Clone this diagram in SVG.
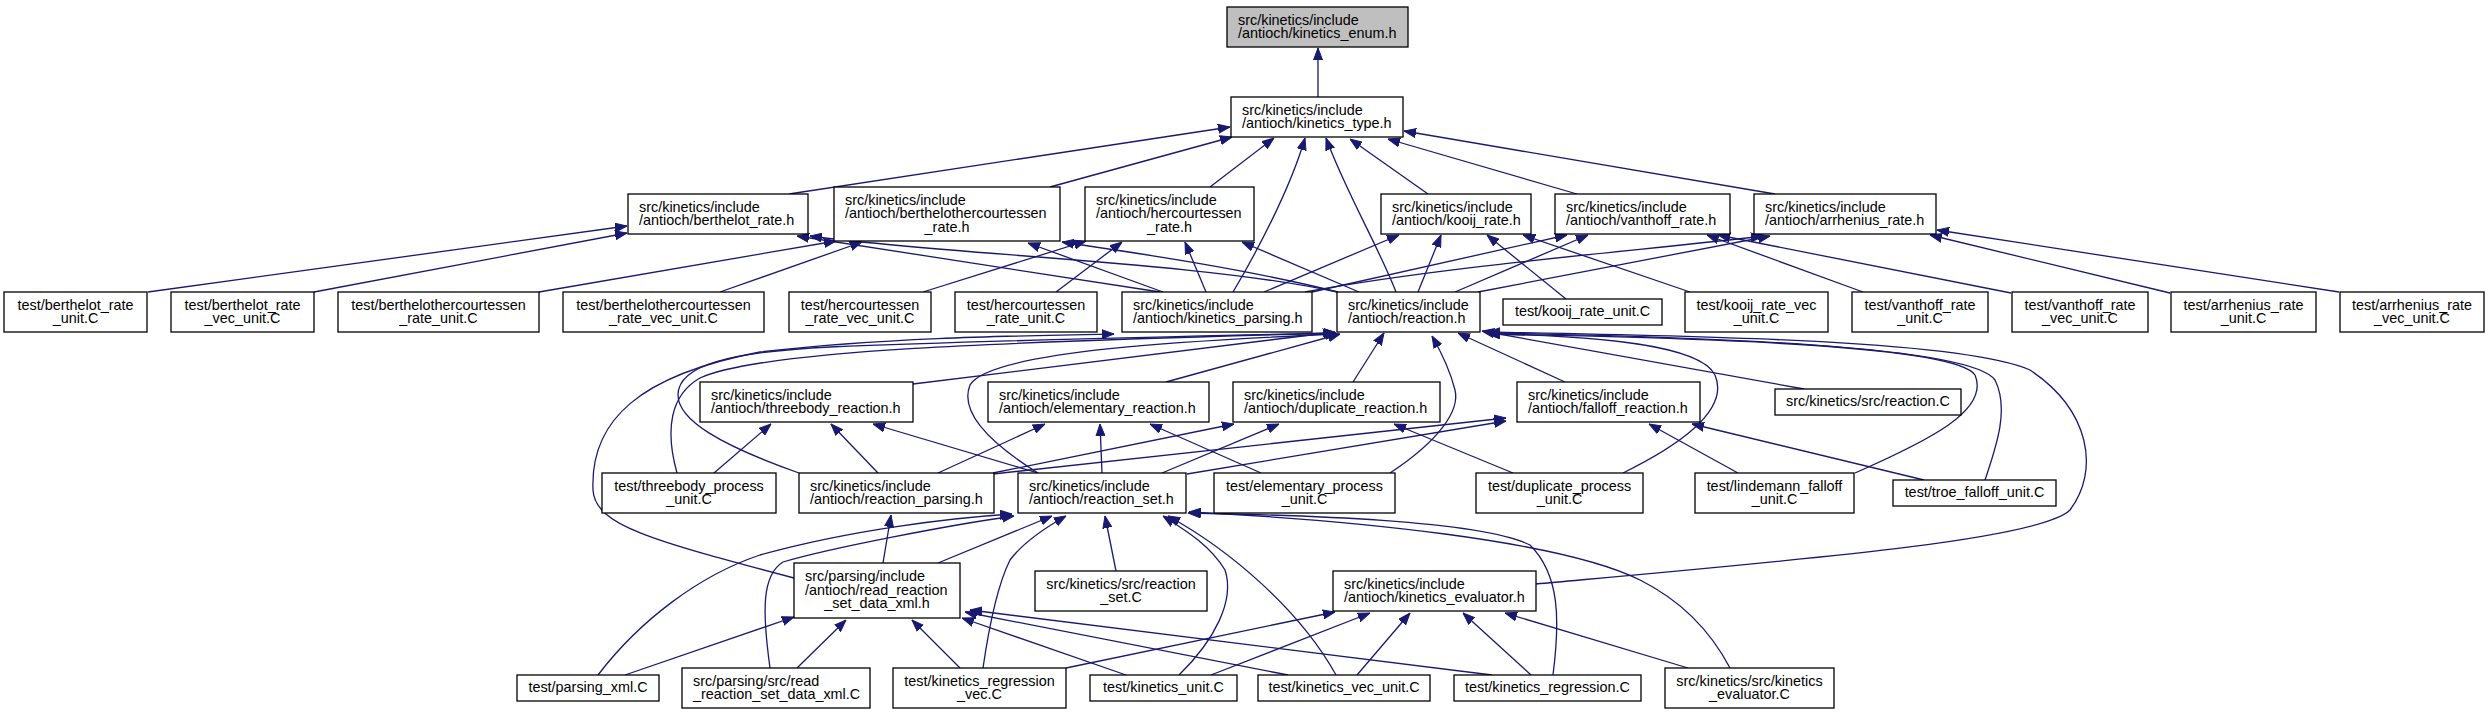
<svg xmlns="http://www.w3.org/2000/svg" width="2489" height="715" viewBox="0 0 2489 715">
<style>
.n rect{fill:#fff;stroke:#000;stroke-width:1.3}
#enum rect{fill:#bfbfbf}
text{font-family:"Liberation Sans",Arial,sans-serif;font-size:14.4px;fill:#000}
.c{text-anchor:middle}
.e path{fill:none;stroke:#191970;stroke-width:1.3;marker-end:url(#a)}
</style>
<defs>
<marker id="a" viewBox="0 0 12 10" markerWidth="12" markerHeight="10" refX="12" refY="5" orient="auto" markerUnits="userSpaceOnUse"><path d="M0,0.5 L12,5 L0,9.5 z" fill="#191970" stroke="#191970" stroke-width="1"/></marker>
</defs>
<rect width="2489" height="715" fill="#fff"/>
<g class="e" id="edges">
<path d="M1318,97 L1318,48"/>
<path d="M789,194 L1230,127"/>
<path d="M1050,187 L1232,137"/>
<path d="M1210,187 L1274,138"/>
<path d="M1233,292 C1255,255 1290,190 1305,138"/>
<path d="M1396,292 C1380,250 1345,190 1326,138"/>
<path d="M1428,194 L1350,139"/>
<path d="M1577,194 L1388,139"/>
<path d="M1775,194 L1404,131"/>
<path d="M148,292 L627,226"/>
<path d="M314,292 L627,233"/>
<path d="M1160,292 L797,236"/>
<path d="M1337,292 C1200,262 950,255 810,236"/>
<path d="M1163,292 L1028,243"/>
<path d="M1338,292 C1250,270 1150,255 1062,242"/>
<path d="M539,292 L836,241"/>
<path d="M720,292 L862,242"/>
<path d="M923,292 L1086,241"/>
<path d="M1056,292 L1122,242"/>
<path d="M1206,292 L1185,242"/>
<path d="M1359,292 L1242,242"/>
<path d="M1264,292 L1399,235"/>
<path d="M1418,292 L1441,235"/>
<path d="M1566,299 L1487,235"/>
<path d="M1690,292 L1523,235"/>
<path d="M1312,292 L1567,235"/>
<path d="M1455,292 L1588,235"/>
<path d="M1863,292 L1707,235"/>
<path d="M2011,293 L1718,235"/>
<path d="M1305,292 C1450,265 1650,250 1763,236"/>
<path d="M1478,292 C1600,268 1700,250 1770,236"/>
<path d="M2170,293 L1930,235"/>
<path d="M2339,292 L1937,230"/>
<path d="M913,384 L1335,332"/>
<path d="M1166,382 L1340,334"/>
<path d="M1353,382 L1384,333"/>
<path d="M1565,382 L1458,333"/>
<path d="M1804,389 L1482,331"/>
<path d="M1623,473 C1680,445 1730,410 1715,375 C1700,345 1600,336 1488,334"/>
<path d="M1855,473 C1930,440 1990,410 1975,375 C1955,345 1700,338 1488,334"/>
<path d="M1985,480 C1995,450 2010,410 1995,380 C1970,345 1700,337 1488,333"/>
<path d="M1536,584 C1800,560 2040,540 2070,510 C2100,470 2090,410 2030,370 C1960,340 1700,336 1488,332"/>
<path d="M794,578 C650,540 595,525 593,490 C590,420 640,375 760,352 C880,338 1000,336 1114,334"/>
<path d="M677,473 C665,430 670,395 700,378 C760,350 1000,342 1336,333"/>
<path d="M799,473 C720,445 678,420 678,395 C678,365 730,352 830,347 C1000,340 1200,336 1336,333"/>
<path d="M1038,473 C985,440 960,410 970,385 C990,350 1200,340 1338,334"/>
<path d="M1390,473 C1440,440 1460,410 1455,390 C1450,370 1440,350 1432,336"/>
<path d="M714,473 L771,424"/>
<path d="M878,473 L831,424"/>
<path d="M1038,473 L873,424"/>
<path d="M938,473 L1045,424"/>
<path d="M1102,473 L1100,424"/>
<path d="M1261,473 L1150,424"/>
<path d="M993,473 L1234,424"/>
<path d="M1162,473 L1279,424"/>
<path d="M1513,473 L1394,424"/>
<path d="M993,474 L1506,418"/>
<path d="M1187,474 L1506,421"/>
<path d="M1738,473 L1649,424"/>
<path d="M1924,480 L1692,424"/>
<path d="M883,563 L891,515"/>
<path d="M938,563 L1052,516"/>
<path d="M598,675 C640,620 700,575 760,555 C850,530 950,518 1012,514"/>
<path d="M770,668 C762,610 762,575 783,562 C830,548 950,525 1014,516"/>
<path d="M983,668 C990,620 1000,580 1010,560 C1025,540 1050,525 1066,516"/>
<path d="M1116,571 L1105,516"/>
<path d="M1179,675 C1215,640 1235,600 1225,570 C1210,545 1185,530 1163,516"/>
<path d="M1336,675 C1300,610 1230,550 1168,516"/>
<path d="M1553,675 C1560,620 1560,575 1530,545 C1480,520 1300,515 1188,513"/>
<path d="M1730,668 C1710,630 1680,600 1640,580 C1560,540 1350,520 1189,512"/>
<path d="M1066,668 L1335,612"/>
<path d="M1211,675 L1370,613"/>
<path d="M1357,675 L1410,613"/>
<path d="M1531,675 L1463,613"/>
<path d="M1688,668 L1505,613"/>
<path d="M625,675 L794,617"/>
<path d="M797,668 L846,620"/>
<path d="M960,668 L912,620"/>
<path d="M1126,675 L962,618"/>
<path d="M1288,675 L965,612"/>
<path d="M1492,675 L970,610"/>
</g>
<g class="n" id="enum"><rect x="1227" y="7" width="181" height="40"/><text x="1238" y="24.6">src/kinetics/include</text><text x="1238" y="37.9">/antioch/kinetics_enum.h</text></g>
<g class="n" id="ktype"><rect x="1231" y="97" width="172" height="40"/><text x="1242" y="114.6">src/kinetics/include</text><text x="1242" y="127.9">/antioch/kinetics_type.h</text></g>
<g class="n" id="berth"><rect x="628" y="194" width="180" height="40"/><text x="639" y="211.6">src/kinetics/include</text><text x="639" y="224.9">/antioch/berthelot_rate.h</text></g>
<g class="n" id="bhc"><rect x="834" y="187" width="226" height="54"/><text x="845" y="204.9">src/kinetics/include</text><text x="845" y="218.2">/antioch/berthelothercourtessen</text><text class="c" x="947" y="231.5">_rate.h</text></g>
<g class="n" id="herc"><rect x="1085" y="187" width="169" height="54"/><text x="1096" y="204.9">src/kinetics/include</text><text x="1096" y="218.2">/antioch/hercourtessen</text><text class="c" x="1169.5" y="231.5">_rate.h</text></g>
<g class="n" id="kooij"><rect x="1381" y="194" width="150" height="40"/><text x="1392" y="211.6">src/kinetics/include</text><text x="1392" y="224.9">/antioch/kooij_rate.h</text></g>
<g class="n" id="vanth"><rect x="1555" y="194" width="175" height="40"/><text x="1566" y="211.6">src/kinetics/include</text><text x="1566" y="224.9">/antioch/vanthoff_rate.h</text></g>
<g class="n" id="arrh"><rect x="1754" y="194" width="182" height="40"/><text x="1765" y="211.6">src/kinetics/include</text><text x="1765" y="224.9">/antioch/arrhenius_rate.h</text></g>
<g class="n" id="t_bru"><rect x="4" y="292" width="143" height="40"/><text class="c" x="75.5" y="309.6">test/berthelot_rate</text><text class="c" x="75.5" y="322.9">_unit.C</text></g>
<g class="n" id="t_brvu"><rect x="171" y="292" width="143" height="40"/><text class="c" x="242.5" y="309.6">test/berthelot_rate</text><text class="c" x="242.5" y="322.9">_vec_unit.C</text></g>
<g class="n" id="t_bhcu"><rect x="338" y="292" width="201" height="40"/><text class="c" x="438.5" y="309.6">test/berthelothercourtessen</text><text class="c" x="438.5" y="322.9">_rate_unit.C</text></g>
<g class="n" id="t_bhcvu"><rect x="563" y="292" width="201" height="40"/><text class="c" x="663.5" y="309.6">test/berthelothercourtessen</text><text class="c" x="663.5" y="322.9">_rate_vec_unit.C</text></g>
<g class="n" id="t_hcvu"><rect x="789" y="292" width="142" height="40"/><text class="c" x="860" y="309.6">test/hercourtessen</text><text class="c" x="860" y="322.9">_rate_vec_unit.C</text></g>
<g class="n" id="t_hcu"><rect x="955" y="292" width="142" height="40"/><text class="c" x="1026" y="309.6">test/hercourtessen</text><text class="c" x="1026" y="322.9">_rate_unit.C</text></g>
<g class="n" id="kparse"><rect x="1122" y="292" width="190" height="40"/><text x="1133" y="309.6">src/kinetics/include</text><text x="1133" y="322.9">/antioch/kinetics_parsing.h</text></g>
<g class="n" id="react"><rect x="1337" y="292" width="143" height="40"/><text x="1348" y="309.6">src/kinetics/include</text><text x="1348" y="322.9">/antioch/reaction.h</text></g>
<g class="n" id="t_ku"><rect x="1503" y="299" width="159" height="26"/><text class="c" x="1582.5" y="316.2">test/kooij_rate_unit.C</text></g>
<g class="n" id="t_kvu"><rect x="1685" y="292" width="143" height="40"/><text class="c" x="1756.5" y="309.6">test/kooij_rate_vec</text><text class="c" x="1756.5" y="322.9">_unit.C</text></g>
<g class="n" id="t_vu"><rect x="1852" y="292" width="136" height="40"/><text class="c" x="1920" y="309.6">test/vanthoff_rate</text><text class="c" x="1920" y="322.9">_unit.C</text></g>
<g class="n" id="t_vvu"><rect x="2012" y="292" width="136" height="40"/><text class="c" x="2080" y="309.6">test/vanthoff_rate</text><text class="c" x="2080" y="322.9">_vec_unit.C</text></g>
<g class="n" id="t_au"><rect x="2171" y="292" width="145" height="40"/><text class="c" x="2243.5" y="309.6">test/arrhenius_rate</text><text class="c" x="2243.5" y="322.9">_unit.C</text></g>
<g class="n" id="t_avu"><rect x="2340" y="292" width="144" height="40"/><text class="c" x="2412" y="309.6">test/arrhenius_rate</text><text class="c" x="2412" y="322.9">_vec_unit.C</text></g>
<g class="n" id="three"><rect x="700" y="382" width="213" height="40"/><text x="711" y="399.6">src/kinetics/include</text><text x="711" y="412.9">/antioch/threebody_reaction.h</text></g>
<g class="n" id="elem"><rect x="988" y="382" width="221" height="40"/><text x="999" y="399.6">src/kinetics/include</text><text x="999" y="412.9">/antioch/elementary_reaction.h</text></g>
<g class="n" id="dup"><rect x="1233" y="382" width="207" height="40"/><text x="1244" y="399.6">src/kinetics/include</text><text x="1244" y="412.9">/antioch/duplicate_reaction.h</text></g>
<g class="n" id="fall"><rect x="1517" y="382" width="183" height="40"/><text x="1528" y="399.6">src/kinetics/include</text><text x="1528" y="412.9">/antioch/falloff_reaction.h</text></g>
<g class="n" id="reactC"><rect x="1775" y="389" width="186" height="26"/><text class="c" x="1868" y="406.2">src/kinetics/src/reaction.C</text></g>
<g class="n" id="t_tbp"><rect x="602" y="473" width="174" height="40"/><text class="c" x="689" y="490.6">test/threebody_process</text><text class="c" x="689" y="503.9">_unit.C</text></g>
<g class="n" id="rparse"><rect x="799" y="473" width="195" height="40"/><text x="810" y="490.6">src/kinetics/include</text><text x="810" y="503.9">/antioch/reaction_parsing.h</text></g>
<g class="n" id="rset"><rect x="1018" y="473" width="168" height="40"/><text x="1029" y="490.6">src/kinetics/include</text><text x="1029" y="503.9">/antioch/reaction_set.h</text></g>
<g class="n" id="t_epu"><rect x="1214" y="473" width="181" height="40"/><text class="c" x="1304.5" y="490.6">test/elementary_process</text><text class="c" x="1304.5" y="503.9">_unit.C</text></g>
<g class="n" id="t_dpu"><rect x="1476" y="473" width="167" height="40"/><text class="c" x="1559.5" y="490.6">test/duplicate_process</text><text class="c" x="1559.5" y="503.9">_unit.C</text></g>
<g class="n" id="t_lfu"><rect x="1695" y="473" width="159" height="40"/><text class="c" x="1774.5" y="490.6">test/lindemann_falloff</text><text class="c" x="1774.5" y="503.9">_unit.C</text></g>
<g class="n" id="t_tfu"><rect x="1893" y="480" width="163" height="26"/><text class="c" x="1974.5" y="497.2">test/troe_falloff_unit.C</text></g>
<g class="n" id="rrsx"><rect x="794" y="563" width="166" height="55"/><text x="805" y="581.4">src/parsing/include</text><text x="805" y="594.7">/antioch/read_reaction</text><text class="c" x="877" y="608">_set_data_xml.h</text></g>
<g class="n" id="rsetC"><rect x="1035" y="571" width="172" height="40"/><text class="c" x="1121" y="588.6">src/kinetics/src/reaction</text><text class="c" x="1121" y="601.9">_set.C</text></g>
<g class="n" id="keval"><rect x="1333" y="571" width="203" height="40"/><text x="1344" y="588.6">src/kinetics/include</text><text x="1344" y="601.9">/antioch/kinetics_evaluator.h</text></g>
<g class="n" id="t_pxml"><rect x="517" y="675" width="142" height="26"/><text class="c" x="588" y="692.2">test/parsing_xml.C</text></g>
<g class="n" id="rrsxC"><rect x="682" y="668" width="188" height="40"/><text x="693" y="685.6">src/parsing/src/read</text><text x="693" y="698.9">_reaction_set_data_xml.C</text></g>
<g class="n" id="t_krv"><rect x="893" y="668" width="173" height="40"/><text class="c" x="979.5" y="685.6">test/kinetics_regression</text><text class="c" x="979.5" y="698.9">_vec.C</text></g>
<g class="n" id="t_kunit"><rect x="1090" y="675" width="147" height="26"/><text class="c" x="1163.5" y="692.2">test/kinetics_unit.C</text></g>
<g class="n" id="t_kvec"><rect x="1258" y="675" width="172" height="26"/><text class="c" x="1344" y="692.2">test/kinetics_vec_unit.C</text></g>
<g class="n" id="t_kreg"><rect x="1454" y="675" width="187" height="26"/><text class="c" x="1547.5" y="692.2">test/kinetics_regression.C</text></g>
<g class="n" id="kevalC"><rect x="1665" y="668" width="169" height="40"/><text class="c" x="1749.5" y="685.6">src/kinetics/src/kinetics</text><text class="c" x="1749.5" y="698.9">_evaluator.C</text></g>
</svg>
